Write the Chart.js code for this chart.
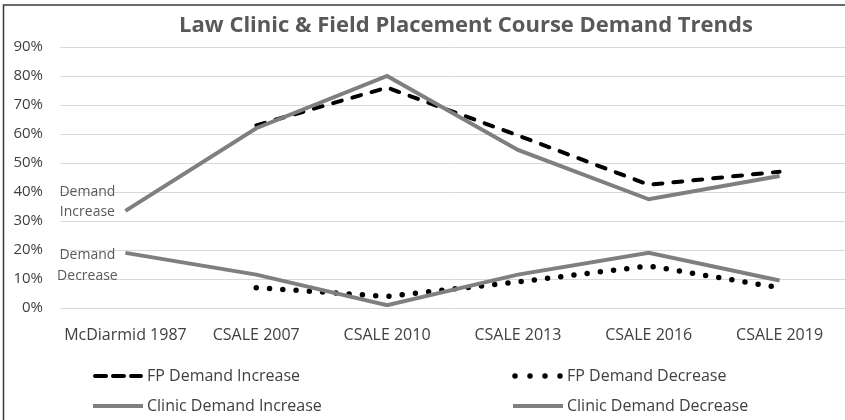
<!DOCTYPE html>
<html lang="en">
<head>
<meta charset="UTF-8">
<title>Law Clinic &amp; Field Placement Course Demand Trends</title>
<script src="https://cdn.jsdelivr.net/npm/chart.js"></script>
<style>
  body { margin: 0; background: #fff; }
</style>
</head>
<body>
<canvas id="demandChart" width="845" height="420"></canvas>
<script>
// survey points
const categories = ['McDiarmid 1987', 'CSALE 2007', 'CSALE 2010', 'CSALE 2013', 'CSALE 2016', 'CSALE 2019'];

// percentages
const fpIncrease     = [null, 63, 76, 59.5, 42.5, 47];
const fpDecrease     = [null, 7, 4, 9, 14.5, 7];
const clinicIncrease = [33.5, 62, 80, 54.5, 37.5, 45.5];
const clinicDecrease = [19, 11.5, 1, 11.5, 19, 9.5];

const yTicks = [0, 10, 20, 30, 40, 50, 60, 70, 80, 90];

const FONT = '"Open Sans", "DejaVu Sans", sans-serif';
const TEXT = '#404040';
const GREY = '#7f7f7f';

// border, title, the two left-hand labels and the 2x2 legend
const extras = {
    id: 'extras',
    afterDraw(chart) {
        const ctx = chart.ctx;
        ctx.save();

        // frame (only top and left edges are visible in the crop)
        ctx.strokeStyle = '#3a3a3a';
        ctx.lineWidth = 1.5;
        ctx.beginPath();
        ctx.moveTo(3.5, 420);
        ctx.lineTo(3.5, 5);
        ctx.lineTo(845, 5);
        ctx.stroke();

        // title
        ctx.fillStyle = '#595959';
        ctx.font = 'bold 22px ' + FONT;
        ctx.textAlign = 'center';
        ctx.textBaseline = 'alphabetic';
        ctx.fillText('Law Clinic & Field Placement Course Demand Trends', 466, 32);

        // labels next to the first points
        ctx.font = '14px ' + FONT;
        ctx.textBaseline = 'middle';
        const inc = chart.getDatasetMeta(2).data[0];
        const dec = chart.getDatasetMeta(3).data[0];
        ctx.fillText('Demand', inc.x - 38, inc.y - 19);
        ctx.fillText('Increase', inc.x - 38, inc.y + 1);
        ctx.fillText('Demand', dec.x - 38, dec.y + 2);
        ctx.fillText('Decrease', dec.x - 38, dec.y + 23);

        // legend
        const slots = [[93, 376], [513, 376], [93, 406], [513, 406]];
        chart.data.datasets.forEach((ds, i) => {
            const [x, y] = slots[i];
            ctx.strokeStyle = ds.borderColor;
            ctx.lineWidth = ds.borderWidth;
            ctx.lineCap = ds.borderCapStyle || 'butt';
            ctx.setLineDash(ds.legendDash || []);
            ctx.beginPath();
            ctx.moveTo(x + (ds.legendInset || 0), y);
            ctx.lineTo(x + 50 - (ds.legendInset || 0), y);
            ctx.stroke();
            ctx.setLineDash([]);
            ctx.fillStyle = TEXT;
            ctx.font = '16px ' + FONT;
            ctx.textAlign = 'left';
            ctx.fillText(ds.label, x + 54, y);
        });

        ctx.restore();
    }
};

const chart = new Chart(document.getElementById('demandChart'), {
    type: 'line',
    data: {
        labels: categories,
        datasets: [
            {
                label: 'FP Demand Increase',
                data: fpIncrease,
                borderColor: '#000',
                borderWidth: 4,
                borderDash: [9, 11],
                borderCapStyle: 'round',
                legendDash: [11, 7],
                legendInset: 2,
                order: 2
            },
            {
                label: 'FP Demand Decrease',
                data: fpDecrease,
                borderColor: '#000',
                borderWidth: 5.5,
                borderDash: [0, 13.3],
                borderCapStyle: 'round',
                legendDash: [0, 15],
                legendInset: 2,
                order: 2
            },
            {
                label: 'Clinic Demand Increase',
                data: clinicIncrease,
                borderColor: GREY,
                borderWidth: 4,
                order: 1
            },
            {
                label: 'Clinic Demand Decrease',
                data: clinicDecrease,
                borderColor: GREY,
                borderWidth: 4,
                order: 1
            }
        ]
    },
    options: {
        responsive: false,
        animation: false,
        layout: { padding: { top: 47, left: 0, right: 0, bottom: 0 } },
        elements: {
            point: { radius: 0, hoverRadius: 0 },
            line: { tension: 0, fill: false }
        },
        plugins: {
            legend: { display: false },
            title: { display: false },
            tooltip: { enabled: false }
        },
        scales: {
            x: {
                offset: true,
                grid: { display: false, drawTicks: false },
                border: { display: false },
                ticks: {
                    color: TEXT,
                    font: { family: FONT, size: 16 },
                    padding: 18,
                    maxRotation: 0,
                    autoSkip: false
                },
                afterFit(scale) { scale.height = 112; }
            },
            y: {
                min: 0,
                max: 90,
                afterBuildTicks(scale) { scale.ticks = yTicks.map(v => ({ value: v })); },
                grid: { color: '#d9d9d9', lineWidth: 1, drawTicks: false },
                border: { display: false },
                ticks: {
                    color: TEXT,
                    font: { family: FONT, size: 15 },
                    padding: 17,
                    callback: v => v + '%'
                },
                afterFit(scale) { scale.width = 60; }
            }
        }
    },
    plugins: [extras]
});
</script>
</body>
</html>
